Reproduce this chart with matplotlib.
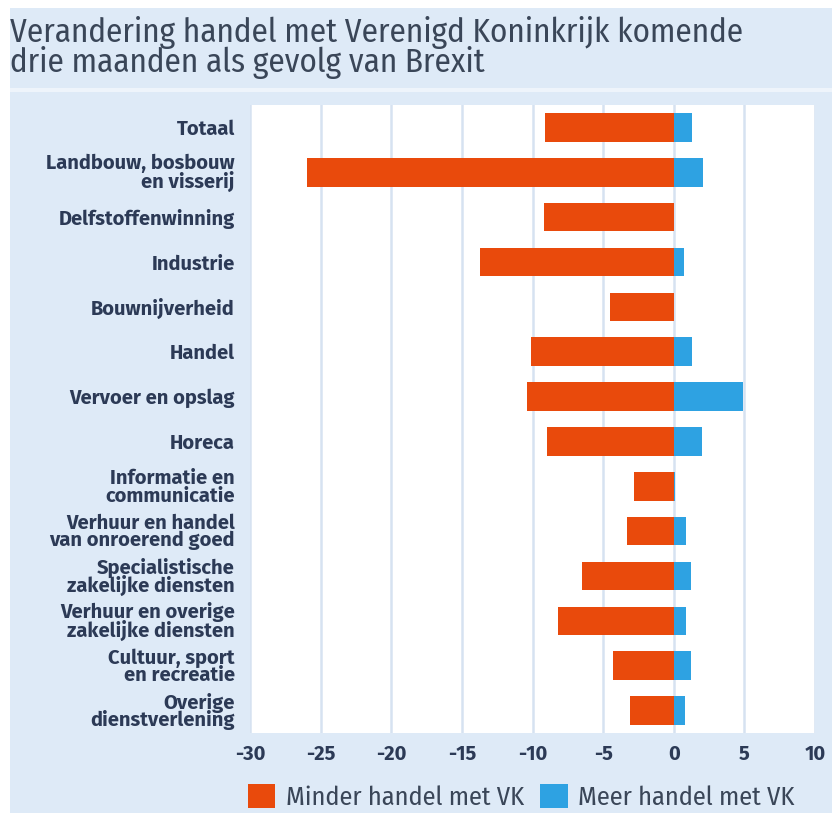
import matplotlib
matplotlib.use("Agg")
import matplotlib.pyplot as plt
from matplotlib.patches import Rectangle

plt.rcParams['axes.unicode_minus'] = False
plt.rcParams['font.family'] = ["Fira Sans Condensed", "DejaVu Sans"]

# sectoren van boven naar beneden
Sectoren = [
    "Totaal",
    "Landbouw, bosbouw\nen visserij",
    "Delfstoffenwinning",
    "Industrie",
    "Bouwnijverheid",
    "Handel",
    "Vervoer en opslag",
    "Horeca",
    "Informatie en\ncommunicatie",
    "Verhuur en handel\nvan onroerend goed",
    "Specialistische\nzakelijke diensten",
    "Verhuur en overige\nzakelijke diensten",
    "Cultuur, sport\nen recreatie",
    "Overige\ndienstverlening",
]
Minder = [-9.1, -26.0, -9.2, -13.7, -4.5, -10.1, -10.4, -9.0, -2.8, -3.3, -6.5, -8.2, -4.3, -3.1]
Meer = [1.3, 2.1, 0.0, 0.7, 0.0, 1.3, 4.9, 2.0, 0.1, 0.9, 1.2, 0.9, 1.2, 0.8]
XTicks = [-30, -25, -20, -15, -10, -5, 0, 5, 10]

ORANJE = "#e94a0c"
BLAUW = "#2ea2e2"
ACHTERGROND = "#deeaf7"
TEKST = "#2c3a56"
BREED = ["Fira Sans", "DejaVu Sans"]

W, H = 832, 813
fig = plt.figure(figsize=(W / 100, H / 100), dpi=100)
fig.patch.set_facecolor("white")


def px(x0, y0, x1, y1):
    """pixelcoordinaten (van boven) naar figuurcoordinaten"""
    return [x0 / W, 1 - y1 / H, (x1 - x0) / W, (y1 - y0) / H]


fig.patches.append(Rectangle((10 / W, 0), 1, 1 - 8 / H, transform=fig.transFigure,
                             facecolor=ACHTERGROND, edgecolor="none", zorder=-10))
fig.patches.append(Rectangle((10 / W, 1 - 92 / H), 1, 4 / H, transform=fig.transFigure,
                             facecolor="#eef4fb", edgecolor="none", zorder=-10))

fig.text(10 / W, 1 - 16 / H, "Verandering handel met Verenigd Koninkrijk komende\ndrie maanden als gevolg van Brexit",
         ha="left", va="top", fontsize=23.8, color="#3a4658", linespacing=0.9)

ax = fig.add_axes(px(250, 105, 815, 733))
ax.set_facecolor("white")

y = list(range(len(Sectoren)))
b1 = ax.barh(y, Minder, height=0.64, color=ORANJE, zorder=3, label="Minder handel met VK")
b2 = ax.barh(y, Meer, height=0.64, color=BLAUW, zorder=3, label="Meer handel met VK")

ax.set_xlim(-30, 10)
ax.set_ylim(len(Sectoren) - 0.5, -0.5)
ax.set_xticks(XTicks)
ax.set_xticklabels([str(t) for t in XTicks], fontsize=14.5, fontweight="bold", color=TEKST, family=BREED)
ax.set_yticks(y)
ax.set_yticklabels(Sectoren, fontsize=14.5, fontweight="bold", color=TEKST, linespacing=0.86, family=BREED)
ax.tick_params(axis="both", length=0)
ax.tick_params(axis="x", pad=8)
ax.tick_params(axis="y", pad=11)
ax.grid(axis="x", color="#d6e2f1", linewidth=1.8, zorder=1)
for s in ax.spines.values():
    s.set_visible(False)

fig.legend(handles=[b1, b2], loc="center", bbox_to_anchor=(521 / W, 1 - 797 / H),
           ncol=2, frameon=False, handlelength=1.05, handleheight=1.0,
           handletextpad=0.4, columnspacing=0.6, borderaxespad=0,
           prop={"size": 19}, labelcolor="#3a4658")

fig.savefig("out.png", dpi=100, facecolor=fig.get_facecolor())
